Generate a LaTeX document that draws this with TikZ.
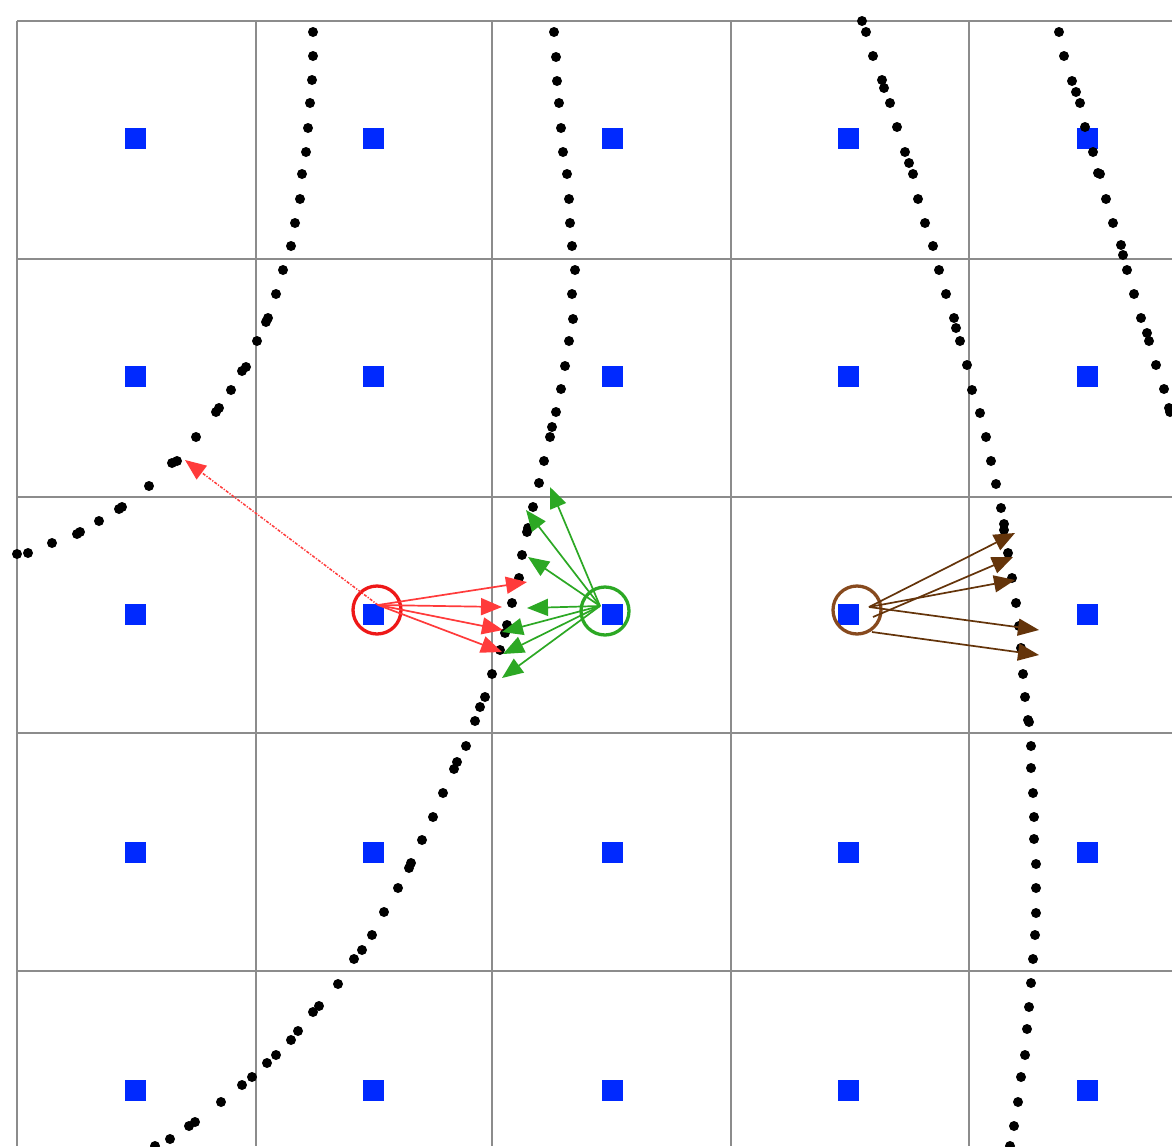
\documentclass[tikz,border=0pt]{standalone}
\usetikzlibrary{arrows.meta}
\definecolor{gridgray}{RGB}{140,140,140}
\definecolor{sqblue}{RGB}{0,41,255}
\definecolor{arrred}{RGB}{255,59,59}
\definecolor{circred}{RGB}{238,24,24}
\definecolor{arrgreen}{RGB}{44,168,36}
\definecolor{arrbrown}{RGB}{100,52,10}
\definecolor{circbrown}{RGB}{135,74,30}
\tikzset{
  gridline/.style={draw=gridgray, line width=2pt},
  sq/.style={fill=sqblue, minimum size=21pt, inner sep=0pt, outer sep=0pt},
  ring/.style={circle, draw, line width=3.3pt, minimum size=48pt, inner sep=0pt},
  vec/.style={line width=1.7pt, -{Triangle[length=21pt,width=17pt]}},
  dot/.style={fill=black}
}
\begin{document}
\begin{tikzpicture}[x=1pt,y=-1pt]
\useasboundingbox (0,0) rectangle (1172,1146);
\fill[white] (0,0) rectangle (1172,1146);
% grid
\foreach \gx in {17,256,492,731,969} \draw[gridline] (\gx,21) -- (\gx,1146);
\foreach \gy in {21,259,497,733,971} \draw[gridline] (17,\gy) -- (1172,\gy);
% blue squares
\foreach \cx/\ci in {135/1,373/2,612/3,848/4,1087/5}
  \foreach \cy/\ri in {138/1,376/2,614/3,852/4,1090/5}
    \node[sq] (s\ri\ci) at (\cx,\cy) {};
% dotted curves
\foreach \px/\py in {313/32,313/56,312/80,310/103,308/128,306/152,302/174,300/199,295/223,291/246,283/270,276/294,268/318,266/322,257/341,246/367,242/371,231/390,219/408,216/412,196/437,177/461,172/463,149/486,122/507,119/509,99/521,80/532,77/534,52/543,28/553,17/554}
  \fill[dot] (\px,\py) circle (5pt);
\foreach \px/\py in {554/32,556/57,557/81,559/103,561/128,563/152,567/174,569/199,570/223,572/246,575/270,572/294,573/319,569/341,565/366,561/389,556/412,552/427,550/437,544/461,539/483,533/507,528/528,527/532,522/555,519/578,512/603,507/625,505/633,500/650,492/674,485/697,480/707,475/721,466/746,457/762,454/769,443/793,433/817,422/840,411/863,409/868,398/888,384/912,372/935,362/950,354/959,338/984,319/1006,313/1012,298/1031,291/1040,276/1055,267/1063,252/1077,242/1085,221/1102,195/1122,189/1126,170/1139,155/1146}
  \fill[dot] (\px,\py) circle (5pt);
\foreach \px/\py in {862/21,866/32,873/56,882/80,884/88,890/103,897/127,905/152,909/163,913/174,918/199,925/223,933/246,939/270,946/294,954/318,956/328,960/341,967/365,972/390,980/413,986/437,991/461,996/484,1001/508,1004/524,1004/530,1008/553,1012/578,1016/603,1019/626,1021/648,1023/674,1025/697,1028/720,1029/722,1031/746,1031/768,1033/793,1034/817,1034/839,1036/864,1036/888,1036/913,1035/935,1033/959,1031/983,1029/1007,1027/1029,1025/1055,1021/1077,1018/1102,1014/1126,1010/1146}
  \fill[dot] (\px,\py) circle (5pt);
\foreach \px/\py in {1059/32,1064/56,1072/81,1076/92,1080/103,1085/127,1093/152,1098/173,1100/174,1106/199,1113/223,1121/245,1123/255,1127/270,1134/294,1141/318,1147/333,1149/341,1156/365,1164/389,1169/408,1170/412}
  \fill[dot] (\px,\py) circle (5pt);
% circles
\node[ring, draw=circred] (rc) at (377,610) {};
\node[ring, draw=arrgreen] (gc) at (605,611) {};
\node[ring, draw=circbrown] (bc) at (857,610) {};
% red arrows
\coordinate (rs) at (378,605);
\coordinate (rt0) at (185,460);
\coordinate (rt1) at (527,582);
\coordinate (rt2) at (502,607);
\coordinate (rt3) at (503,630);
\coordinate (rt4) at (502,652);
\draw[arrred, line width=1.5pt, dash pattern=on 3pt off 1.5pt on 1.2pt off 1.5pt, -{Triangle[length=21pt,width=17pt]}] (rs) -- (rt0);
\foreach \t in {rt1,rt2,rt3,rt4} \draw[vec, arrred] (rs) -- (\t);
% green arrows
\coordinate (gs) at (600,606);
\coordinate (gt1) at (550,487);
\coordinate (gt2) at (526,510);
\coordinate (gt3) at (528,557);
\coordinate (gt4) at (527,608);
\coordinate (gt5) at (502,632);
\coordinate (gt6) at (503,654);
\coordinate (gt7) at (502,678);
\foreach \t in {gt1,gt2,gt3,gt4,gt5,gt6,gt7} \draw[vec, arrgreen] (gs) -- (\t);
% brown arrows
\coordinate (bs1) at (869,607);
\coordinate (bs2) at (873,617);
\coordinate (bs3) at (872,632);
\coordinate (bt1) at (1015,533);
\coordinate (bt2) at (1013,557);
\coordinate (bt3) at (1015,580);
\coordinate (bt4) at (1039,630);
\coordinate (bt5) at (1039,655);
\draw[vec, arrbrown] (bs1) -- (bt1);
\draw[vec, arrbrown] (bs2) -- (bt2);
\draw[vec, arrbrown] (bs1) -- (bt3);
\draw[vec, arrbrown] (bs1) -- (bt4);
\draw[vec, arrbrown] (bs3) -- (bt5);
\end{tikzpicture}
\end{document}
